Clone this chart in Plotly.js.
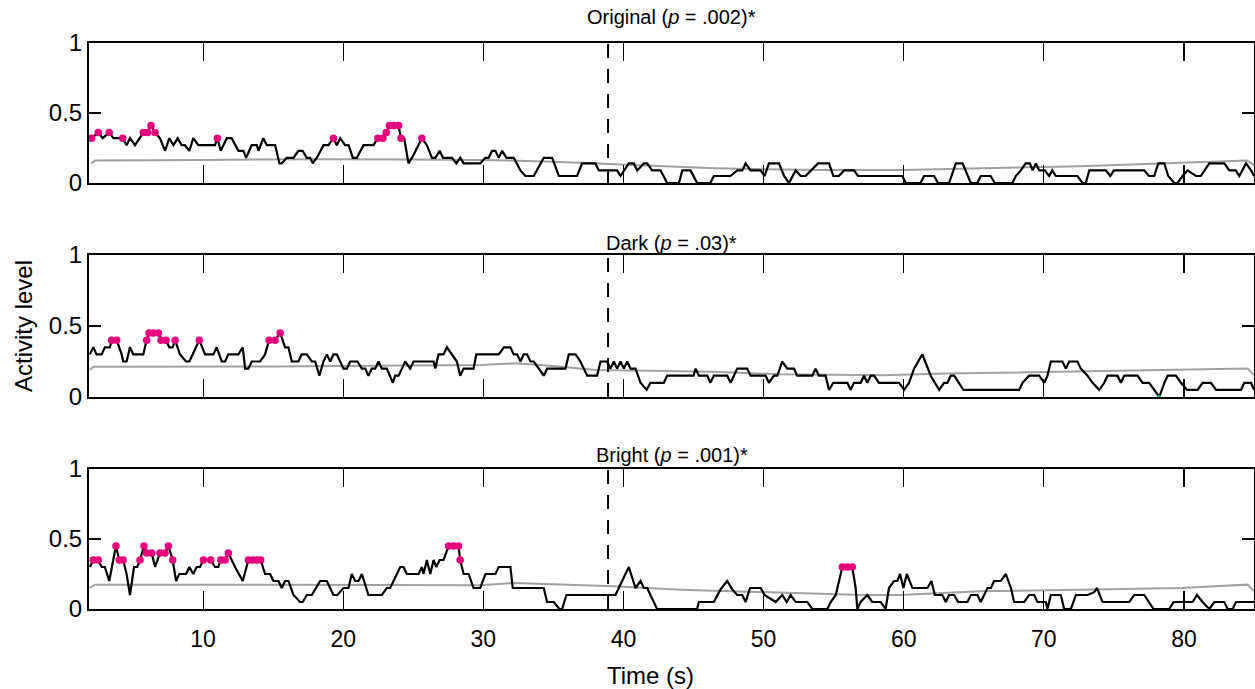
<!DOCTYPE html>
<html>
<head>
<meta charset="utf-8">
<script src="https://cdn.plot.ly/plotly-3.0.1.min.js"></script>
<style>html,body{margin:0;padding:0;background:#fff;}#chart{width:1255px;height:689px;}</style>
</head>
<body>
<div id="chart"></div>
<script>
// ---------- DATA ----------
const stimulusOnset = 38.9;
const panelTitles = ["Original (<i>p</i> = .002)*", "Dark (<i>p</i> = .03)*", "Bright (<i>p</i> = .001)*"];
const xTickVals = [10, 20, 30, 40, 50, 60, 70, 80];
const yTickVals = [0, 0.5, 1];
const yTickText = ["0", "0.5", "1"];

// Original
const origT = [2.04,2.52,2.83,3.30,3.60,4.26,4.54,4.78,5.14,5.50,5.73,6.04,6.28,6.57,6.92,7.28,7.59,7.88,8.19,8.47,8.70,9.02,9.30,9.66,9.97,10.85,11.02,11.26,11.69,12.04,12.52,12.88,13.07,13.47,13.83,13.95,14.30,14.54,15.14,15.45,15.61,15.97,16.45,16.80,17.10,17.40,17.64,17.83,18.23,18.59,18.95,19.30,19.54,19.78,20.14,20.38,20.69,20.97,21.45,22.16,22.47,22.83,23.07,23.30,23.62,23.95,24.12,24.35,24.66,25.02,25.61,25.97,26.33,26.57,26.88,27.12,27.76,28.07,28.35,28.59,29.78,30.14,30.38,30.62,30.86,31.10,31.34,31.65,32.17,32.65,33.00,33.60,34.31,34.91,35.39,36.69,37.05,38.00,38.24,39.55,39.79,40.38,40.74,40.98,41.46,41.69,42.05,42.65,43.12,43.96,44.20,44.79,45.26,46.20,46.45,47.64,48.12,48.48,48.72,49.07,49.79,50.07,50.38,51.10,51.46,51.81,52.29,52.65,53.00,53.36,53.88,54.67,54.98,55.38,55.74,56.45,56.74,59.90,60.15,61.20,61.45,62.17,62.45,63.24,63.72,64.20,64.55,64.79,65.26,65.50,66.20,66.50,67.76,68.00,68.36,68.70,69.00,69.20,69.43,69.67,70.07,70.38,70.60,70.86,72.40,72.76,73.00,73.24,74.43,74.74,75.00,77.17,77.50,77.88,78.17,78.60,78.88,79.31,79.55,79.90,80.26,80.86,81.20,81.81,82.88,83.24,83.70,83.95,84.43,84.79,85.00];
const origV = [0.32,0.36,0.32,0.36,0.32,0.32,0.27,0.32,0.27,0.32,0.36,0.36,0.41,0.36,0.32,0.23,0.32,0.27,0.32,0.27,0.27,0.23,0.32,0.27,0.27,0.27,0.32,0.23,0.32,0.32,0.23,0.23,0.18,0.27,0.27,0.23,0.32,0.27,0.27,0.14,0.14,0.18,0.18,0.23,0.23,0.18,0.18,0.14,0.20,0.27,0.27,0.32,0.27,0.32,0.27,0.27,0.18,0.18,0.27,0.27,0.32,0.32,0.36,0.41,0.41,0.41,0.32,0.32,0.14,0.20,0.32,0.27,0.18,0.18,0.23,0.18,0.18,0.14,0.18,0.14,0.14,0.18,0.18,0.23,0.23,0.18,0.23,0.18,0.18,0.09,0.05,0.05,0.18,0.18,0.05,0.05,0.14,0.14,0.09,0.09,0.05,0.14,0.14,0.09,0.14,0.14,0.09,0.09,0,0,0.09,0.09,0,0,0.05,0.05,0.09,0.09,0.14,0.09,0.09,0.05,0.14,0.14,0.05,0,0.09,0.05,0.05,0.09,0.14,0.14,0.05,0.05,0.09,0.09,0.05,0.05,0,0,0.05,0.05,0,0,0.14,0.14,0.05,0,0,0.05,0.05,0,0,0.05,0.09,0.14,0.14,0.09,0.14,0.09,0.09,0.05,0.09,0.05,0.05,0,0,0.09,0.09,0.05,0.09,0.09,0.05,0.05,0.14,0.14,0.05,0,0,0.05,0.09,0.05,0.05,0.14,0.14,0.09,0.09,0.05,0.14,0.09,0.05];
const origDotT = [2.04,2.52,3.30,4.26,5.73,6.04,6.28,6.57,11.02,19.30,22.47,22.83,23.07,23.30,23.62,23.95,24.12,25.61];
const origDotV = [0.32,0.36,0.36,0.32,0.36,0.36,0.41,0.36,0.32,0.32,0.32,0.32,0.36,0.41,0.41,0.41,0.32,0.32];
const origMeanT = [2.0,2.3,10,18,25,31,35,39,43,46.5,50,54,60,65.5,72.6,79.8,84.5,85];
const origMeanV = [0.14,0.16,0.165,0.17,0.168,0.163,0.152,0.136,0.12,0.105,0.098,0.093,0.093,0.105,0.12,0.145,0.16,0.13];

// Dark
const darkT = [1.92,2.16,2.40,2.76,2.99,3.35,3.47,3.83,4.19,4.30,4.54,4.78,5.02,5.73,5.97,6.14,6.45,6.81,7.00,7.35,7.59,7.83,8.00,8.35,8.78,9.02,9.73,10.14,10.73,10.97,11.33,11.57,11.80,12.52,12.83,13.00,13.23,13.47,14.07,14.42,14.71,15.14,15.50,15.85,16.09,16.33,16.80,17.04,17.40,17.76,18.00,18.30,18.59,18.83,19.07,19.30,19.54,20.02,20.26,20.50,21.02,21.33,21.57,21.80,22.04,22.28,22.52,22.76,23.11,23.54,23.71,23.95,24.19,24.42,24.78,25.02,26.45,26.57,26.80,27.16,27.40,27.76,28.11,28.35,28.59,29.30,29.50,31.10,31.46,31.93,32.17,32.41,32.65,32.88,33.12,33.36,33.60,33.96,34.31,34.55,35.86,36.10,36.58,36.93,37.41,38.12,38.36,38.83,39.07,39.31,39.55,39.79,40.03,40.27,40.50,40.86,41.22,41.65,41.93,42.88,43.12,45.00,45.15,45.38,45.98,46.20,46.45,47.40,47.65,48.12,48.83,49.07,50.15,50.38,50.74,50.98,51.33,51.69,52.17,52.40,53.48,53.71,53.95,54.43,54.67,54.98,55.98,56.21,56.45,56.93,57.17,57.40,57.65,57.88,58.24,59.67,60.03,60.38,60.74,61.33,61.93,62.53,62.88,63.12,63.36,63.60,63.96,64.26,68.24,68.48,68.95,69.67,70.03,70.26,70.50,71.33,71.57,71.81,72.40,72.64,73.12,73.48,73.96,74.31,74.55,75.26,75.50,75.74,76.69,77.05,77.52,77.88,78.24,78.60,78.84,79.43,79.79,80.22,80.98,81.33,81.93,82.29,84.07,84.31,84.79,85.00];
const darkV = [0.30,0.35,0.30,0.30,0.35,0.35,0.40,0.40,0.30,0.25,0.25,0.35,0.30,0.30,0.40,0.45,0.45,0.45,0.40,0.40,0.35,0.35,0.40,0.30,0.25,0.25,0.40,0.30,0.30,0.35,0.25,0.25,0.30,0.30,0.35,0.20,0.20,0.25,0.25,0.30,0.40,0.40,0.45,0.35,0.35,0.25,0.25,0.30,0.30,0.25,0.25,0.15,0.25,0.30,0.25,0.30,0.30,0.20,0.20,0.25,0.25,0.20,0.20,0.15,0.20,0.20,0.25,0.20,0.20,0.10,0.15,0.15,0.20,0.25,0.20,0.25,0.25,0.20,0.30,0.30,0.35,0.30,0.25,0.15,0.20,0.20,0.30,0.30,0.35,0.35,0.30,0.30,0.25,0.30,0.30,0.25,0.25,0.20,0.15,0.20,0.20,0.30,0.30,0.25,0.15,0.15,0.25,0.25,0.20,0.25,0.20,0.25,0.20,0.25,0.20,0.20,0.10,0.05,0.10,0.10,0.15,0.15,0.20,0.15,0.15,0.10,0.15,0.15,0.10,0.20,0.20,0.15,0.15,0.10,0.15,0.15,0.25,0.20,0.20,0.15,0.15,0.20,0.15,0.15,0.05,0.10,0.10,0.05,0.10,0.10,0.15,0.10,0.15,0.15,0.10,0.10,0.05,0.10,0.20,0.30,0.15,0.05,0.10,0.10,0.15,0.15,0.10,0.05,0.05,0.10,0.15,0.15,0.10,0.15,0.25,0.25,0.20,0.25,0.25,0.20,0.15,0.10,0.05,0.10,0.15,0.15,0.10,0.15,0.15,0.10,0.10,0.05,0,0.10,0.15,0.15,0.10,0.05,0.05,0.10,0.10,0.05,0.05,0.10,0.10,0.05];
const darkDotT = [3.47,3.83,5.97,6.14,6.45,6.81,7.00,7.35,8.00,9.73,14.71,15.14,15.50];
const darkDotV = [0.40,0.40,0.40,0.45,0.45,0.45,0.40,0.40,0.40,0.40,0.40,0.40,0.45];
const darkLowDotT = [78.24];
const darkLowDotV = [0];
const darkMeanT = [1.92,2.16,15,29.8,32.2,34.1,38.1,41.7,46.5,51.2,58.4,63.1,70.3,77.4,84.55,85];
const darkMeanV = [0.19,0.213,0.215,0.225,0.237,0.225,0.19,0.185,0.177,0.16,0.154,0.165,0.177,0.19,0.2,0.154];

// Bright
const brightT = [1.92,2.16,2.52,2.76,2.99,3.30,3.78,4.02,4.30,4.54,4.78,5.07,5.30,5.50,5.78,5.97,6.33,6.57,6.92,7.28,7.52,7.83,8.07,8.30,8.78,9.02,9.30,9.54,9.78,10.02,10.26,10.54,10.85,11.09,11.26,11.57,11.80,12.28,12.83,13.23,13.54,13.83,14.11,14.42,14.78,15.02,15.38,15.61,15.85,16.09,16.45,16.92,17.11,17.40,17.76,18.35,18.83,19.30,19.59,20.02,20.38,20.61,20.85,21.09,21.33,21.80,22.76,23.11,23.35,24.07,24.30,24.54,25.38,25.61,25.73,25.97,26.21,26.45,26.64,26.88,27.16,27.52,27.88,28.23,28.35,28.59,28.95,29.30,29.78,30.15,30.86,31.10,31.93,32.10,34.31,34.55,35.03,35.43,35.62,35.93,39.43,39.91,40.38,40.86,41.22,41.46,41.69,42.40,45.26,45.38,46.45,46.93,47.40,47.76,48.12,48.48,48.72,49.03,49.79,50.07,50.86,51.33,51.65,51.93,52.29,53.12,53.48,54.55,54.79,55.15,55.62,55.98,56.33,56.57,56.69,56.93,57.40,57.76,58.36,58.71,58.95,59.31,59.55,59.74,59.98,60.22,60.62,61.69,61.98,62.22,62.76,63.00,63.24,63.60,63.88,64.55,64.79,65.26,65.50,65.98,66.22,66.45,66.93,67.29,67.65,67.88,68.60,68.95,69.31,69.55,70.14,70.26,70.50,71.21,71.45,71.93,72.29,73.12,73.60,73.79,74.19,76.10,76.45,77.17,77.52,77.83,78.95,79.26,80.62,80.93,81.33,81.81,82.17,82.88,83.12,83.48,83.71,85.00];
const brightV = [0.30,0.35,0.35,0.30,0.30,0.20,0.45,0.35,0.35,0.25,0.10,0.30,0.30,0.35,0.45,0.40,0.40,0.30,0.40,0.40,0.45,0.35,0.20,0.25,0.25,0.30,0.25,0.30,0.30,0.35,0.35,0.35,0.30,0.30,0.35,0.35,0.40,0.30,0.20,0.35,0.35,0.35,0.35,0.25,0.25,0.20,0.20,0.15,0.20,0.20,0.10,0.05,0.05,0.10,0.10,0.20,0.20,0.10,0.10,0.15,0.15,0.25,0.20,0.20,0.25,0.10,0.10,0.15,0.15,0.30,0.30,0.25,0.25,0.30,0.25,0.35,0.25,0.35,0.30,0.35,0.35,0.45,0.45,0.45,0.35,0.25,0.25,0.15,0.15,0.25,0.25,0.30,0.30,0.15,0.15,0.05,0.05,0,0,0.10,0.10,0.20,0.30,0.15,0.20,0.15,0.15,0,0,0.05,0.05,0.14,0.20,0.14,0.10,0.10,0.05,0.15,0.15,0.10,0.05,0.10,0.05,0.10,0.05,0.05,0,0,0.05,0.10,0.30,0.30,0.30,0.15,0,0.05,0.10,0.05,0.05,0,0.15,0.20,0.20,0.25,0.15,0.25,0.15,0.15,0.20,0.10,0.10,0.05,0.10,0.10,0.05,0.05,0.10,0.10,0.05,0.15,0.15,0.20,0.20,0.25,0.15,0.05,0.05,0.10,0.10,0.05,0.05,0,0.10,0.10,0,0,0.10,0.10,0.12,0.15,0.05,0.05,0.10,0.10,0.05,0,0,0.05,0.05,0.10,0.05,0,0.05,0.05,0,0,0.05,0.05];
const brightDotT = [2.16,2.52,3.78,4.02,4.30,5.50,5.78,5.97,6.33,6.92,7.28,7.52,7.83,10.02,10.54,11.26,11.57,11.80,13.23,13.54,13.83,14.11,27.52,27.88,28.23,28.35,55.62,55.98,56.33];
const brightDotV = [0.35,0.35,0.45,0.35,0.35,0.35,0.45,0.40,0.40,0.40,0.40,0.45,0.35,0.35,0.35,0.35,0.35,0.40,0.35,0.35,0.35,0.35,0.45,0.45,0.45,0.35,0.30,0.30,0.30];
const brightMeanT = [1.92,2.28,15,29.8,32.2,39.3,44.1,51.2,57,59.7,65.5,72.6,79.8,84.55,85];
const brightMeanV = [0.15,0.174,0.174,0.17,0.186,0.162,0.138,0.118,0.1,0.1,0.126,0.138,0.15,0.174,0.126];

// ---------- BUILD ----------
const FONT = "Liberation Sans, Arial, sans-serif";
const BLACK = "#000000", GRAY = "#a0a0a0", PINK = "#e6007e";
const panels = [
  {t: origT, v: origV, dt: origDotT, dv: origDotV, mt: origMeanT, mv: origMeanV},
  {t: darkT, v: darkV, dt: darkDotT, dv: darkDotV, mt: darkMeanT, mv: darkMeanV},
  {t: brightT, v: brightV, dt: brightDotT, dv: brightDotV, mt: brightMeanT, mv: brightMeanV}
];
const traces = [];
panels.forEach((p, i) => {
  const xa = i === 0 ? "x" : "x" + (i + 1);
  const ya = i === 0 ? "y" : "y" + (i + 1);
  traces.push({x: p.mt, y: p.mv, xaxis: xa, yaxis: ya, mode: "lines", line: {color: GRAY, width: 2}, hoverinfo: "skip"});
  traces.push({x: p.t, y: p.v, xaxis: xa, yaxis: ya, mode: "lines", line: {color: BLACK, width: 2.2}, hoverinfo: "skip"});
  traces.push({x: p.dt, y: p.dv, xaxis: xa, yaxis: ya, mode: "markers", marker: {color: PINK, size: 7.5}, hoverinfo: "skip"});
  traces.push({x: [stimulusOnset, stimulusOnset], y: [yTickVals[0], yTickVals[2]], xaxis: xa, yaxis: ya, mode: "lines", line: {color: BLACK, width: 2, dash: "14px,11px"}, hoverinfo: "skip"});
});
traces.push({x: darkLowDotT, y: darkLowDotV, xaxis: "x2", yaxis: "y2", mode: "markers", marker: {color: "#00c060", size: 4}, hoverinfo: "skip"});

const H = 140 / 566;
const domains = [[1 - H, 1], [1 - 354 / 566, 1 - 212 / 566], [0, H]];
const titleShift = [26, 12, 14];
const layout = {
  width: 1255, height: 689,
  margin: {l: 89, r: 1, t: 43, b: 80},
  paper_bgcolor: "#fff", plot_bgcolor: "#fff",
  showlegend: false,
  font: {family: FONT, size: 24, color: "#000"},
  annotations: []
};
for (let i = 0; i < 3; i++) {
  const s = i === 0 ? "" : String(i + 1);
  layout["xaxis" + s] = {
    domain: [0, 1], anchor: "y" + s, range: [1.857, 85.0],
    tickvals: xTickVals, showticklabels: i === 2,
    ticks: "inside", ticklen: 18, tickwidth: 1.2, tickcolor: "#000",
    showline: true, linewidth: 2, linecolor: "#000", mirror: "ticks",
    showgrid: false, zeroline: false, ticklabelstandoff: 8,
    tickfont: {family: FONT, size: 23, color: "#000"}
  };
  layout["yaxis" + s] = {
    domain: domains[i], anchor: "x" + s, range: [0, 1],
    tickvals: yTickVals, ticktext: yTickText,
    ticks: "inside", ticklen: 12, tickwidth: 1.2, tickcolor: "#000",
    showline: true, linewidth: 2, linecolor: "#000", mirror: "ticks",
    showgrid: false, zeroline: false,
    tickfont: {family: FONT, size: 24, color: "#000"}
  };
  layout.annotations.push({
    text: panelTitles[i], xref: "paper", yref: "paper", x: 0.5, y: domains[i][1],
    xanchor: "center", yanchor: "middle", yshift: titleShift[i], showarrow: false,
    font: {family: FONT, size: 20, color: "#000"}
  });
}
layout.annotations.push({
  text: "Time (s)", xref: "paper", yref: "paper", x: (650 - 89) / 1164, y: 0,
  yshift: -66, xanchor: "center", yanchor: "middle", showarrow: false,
  font: {family: FONT, size: 24, color: "#000"}
});
layout.annotations.push({
  text: "Activity level", xref: "paper", yref: "paper", x: 0, y: 0.5,
  xshift: -66, textangle: -90, xanchor: "center", yanchor: "middle", showarrow: false,
  font: {family: FONT, size: 24, color: "#000"}
});

Plotly.newPlot("chart", traces, layout, {staticPlot: true, displayModeBar: false});
</script>
</body>
</html>
